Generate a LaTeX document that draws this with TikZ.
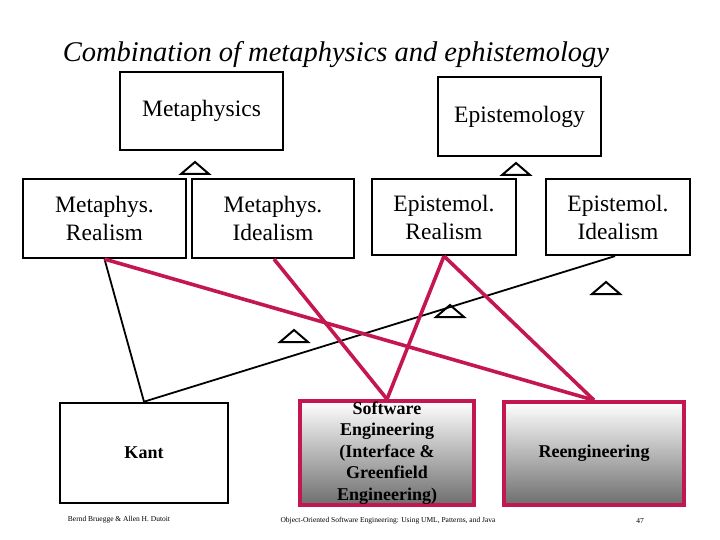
\documentclass[tikz,border=0pt]{standalone}
\usepackage{fontspec}
\setmainfont{Liberation Serif}
\usepackage{xcolor}
\usepackage{tikz}
\definecolor{ink}{HTML}{000000}
\definecolor{crimson}{HTML}{C4164F}
\definecolor{shade}{HTML}{6E6E6E}
\begin{document}
\begin{tikzpicture}[x=1pt,y=-1pt,
  box/.style={draw=ink,line width=2.2pt,inner sep=0pt,align=center,
    font=\fontsize{23.5}{28}\selectfont},
  lowbox/.style={draw=ink,line width=2.6pt,inner sep=0pt,align=center,
    font=\fontsize{18}{21.5}\selectfont\bfseries},
  hibox/.style={lowbox,draw=crimson,line width=3.6pt,top color=white,bottom color=shade},
  assoc/.style={ink,line width=1.8pt},
  tie/.style={crimson,line width=3.6pt}]
\useasboundingbox (0,0) rectangle (720,540);
\fill[white] (0,0) rectangle (720,540);
\node[font=\fontsize{28.5}{32}\selectfont\itshape] (title) at (336,55)
  {Combination of metaphysics and ephistemology};
\node[box,minimum width=163,minimum height=78] (meta) at (201.5,111) {Metaphysics};
\node[box,minimum width=163,minimum height=79] (epist) at (519.5,116.5) {Epistemology};
\node[box,minimum width=163,minimum height=79] (mreal) at (104.5,218.5) {Metaphys.\\Realism};
\node[box,minimum width=162,minimum height=79] (mideal) at (273,218.5) {Metaphys.\\Idealism};
\node[box,minimum width=144,minimum height=76] (ereal) at (444,217) {Epistemol.\\Realism};
\node[box,minimum width=144,minimum height=76] (eideal) at (618,217) {Epistemol.\\Idealism};
\node[lowbox,minimum width=168,minimum height=100] (kant) at (144,453) {Kant};
\node[hibox,minimum width=174,minimum height=104] (soft) at (387,453)
  {Software\\Engineering\\(Interface \&\\Greenfield\\Engineering)};
\node[hibox,minimum width=180,minimum height=103] (reeng) at (594,453.5) {Reengineering};
\foreach \ax/\ay [count=\i] in {195/162,516/163,606/282,450/305,294/330}{
  \draw[assoc,line width=2pt,line join=miter] (\ax,\ay) -- ++(-14,12) -- ++(28,0) -- cycle;
}
\draw[assoc] (mreal.south) -- (kant.north);
\draw[assoc] ([xshift=-3pt]eideal.south) -- (kant.north);
\draw[tie] (mreal.south) -- (reeng.north);
\draw[tie] ([xshift=1pt]mideal.south) -- (soft.north);
\draw[tie] (ereal.south) -- (soft.north);
\draw[tie] (ereal.south) -- (reeng.north);
\node[font=\fontsize{7.5}{9}\selectfont] (authors) at (119,520) {Bernd Bruegge \& Allen H. Dutoit};
\node[font=\fontsize{7.5}{9}\selectfont] (book) at (388,521)
  {Object-Oriented Software Engineering: Using UML, Patterns, and Java};
\node[font=\fontsize{7.5}{9}\selectfont] (page) at (640,521) {47};
\end{tikzpicture}
\end{document}
